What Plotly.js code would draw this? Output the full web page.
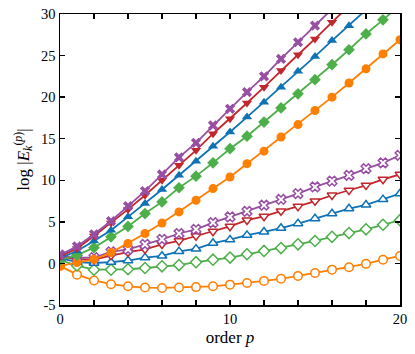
<!DOCTYPE html>
<html>
<head>
<meta charset="utf-8">
<script src="https://cdn.plot.ly/plotly-3.0.1.min.js"></script>
<style>
  html, body { margin: 0; padding: 0; background: white; }
  #plot { width: 415px; height: 354px; }
</style>
</head>
<body>
<div id="plot"></div>
<script>
// order p on the x axis
let orders = [0, 1, 2, 3, 4, 5, 6, 7, 8, 9, 10, 11, 12, 13, 14, 15, 16, 17, 18, 19, 20];

// filled markers (upper bundle)
let filledPurple = [1.0, 2.05, 3.5, 5.1, 6.9, 8.7, 10.7, 12.75, 14.5, 16.6, 18.6, 20.6, 22.5, 24.6, 26.6, 28.6, 30.6];
let filledRed = [0.85, 1.8, 3.3, 4.85, 6.5, 8.2, 10.0, 11.8, 13.6, 15.6, 17.4, 19.3, 21.2, 23.2, 25.1, 27.0, 29.0, 31.0];
let filledBlue = [0.65, 1.5, 2.7, 4.0, 5.6, 7.2, 8.9, 10.6, 12.3, 14.1, 15.8, 17.6, 19.4, 21.2, 23.1, 24.9, 26.8, 28.6, 30.5];
let filledGreen = [0.4, 1.0, 1.9, 3.2, 4.45, 6.0, 7.4, 9.1, 10.5, 12.1, 13.8, 15.3, 17.0, 18.7, 20.4, 22.1, 23.9, 25.7, 27.6, 29.3, 31.1];
let filledOrange = [-0.3, 0.1, 0.5, 1.3, 2.4, 3.6, 4.85, 6.2, 7.6, 9.0, 10.4, 12.0, 13.5, 15.2, 16.7, 18.4, 20.0, 21.7, 23.4, 25.2, 26.9];

// open markers (lower bundle)
let openPurple = [1.0, 0.7, 0.7, 1.4, 1.7, 2.3, 2.9, 3.6, 4.1, 4.9, 5.6, 6.25, 7.0, 7.7, 8.4, 9.2, 9.9, 10.6, 11.4, 12.1, 13.0];
let openRed = [0.85, 0.5, 0.45, 0.95, 1.35, 1.7, 2.3, 2.7, 3.3, 3.85, 4.45, 5.2, 5.65, 6.3, 6.85, 7.5, 8.2, 8.8, 9.4, 10.1, 10.7];
let openBlue = [0.65, 0.15, 0.05, 0.15, 0.35, 0.7, 0.9, 1.45, 1.75, 2.45, 2.85, 3.4, 3.8, 4.25, 4.8, 5.4, 6.0, 6.6, 7.05, 7.7, 8.4];
let openGreen = [0.4, -0.25, -0.75, -0.75, -0.7, -0.55, -0.35, -0.2, 0.15, 0.45, 0.7, 1.1, 1.5, 1.85, 2.3, 2.7, 3.2, 3.65, 4.1, 4.65, 5.2];
let openOrange = [-0.3, -1.35, -2.05, -2.5, -2.75, -2.9, -2.95, -2.9, -2.85, -2.75, -2.55, -2.35, -2.1, -1.85, -1.5, -1.15, -0.75, -0.45, -0.05, 0.45, 0.9];

// tick labels
let yTickVals = [-5, 0, 5, 10, 15, 20, 25, 30];
let yTickText = ['-5', '0', '5', '10', '15', '20', '25', '30'];

let colors = {
    purple: '#984ea3',
    red: '#c1272d',
    blue: '#0d72b6',
    green: '#4daf4a',
    orange: '#ff7f00'
};

function series(y, color, symbol, open) {
    let marker = { symbol: symbol, size: 9, color: color };
    if (open) {
        marker = { symbol: symbol, size: 8.5, color: 'white', line: { color: color, width: 1.5 } };
    }
    return {
        x: orders.slice(0, y.length),
        y: y,
        mode: 'lines+markers',
        type: 'scatter',
        line: { color: color, width: 1.8 },
        marker: marker,
        showlegend: false
    };
}

let traces = [
    series(openOrange, colors.orange, 'circle', true),
    series(openGreen, colors.green, 'diamond', true),
    series(openBlue, colors.blue, 'triangle-up', true),
    series(openRed, colors.red, 'triangle-down', true),
    series(openPurple, colors.purple, 'x', true),
    series(filledOrange, colors.orange, 'circle', false),
    series(filledGreen, colors.green, 'diamond', false),
    series(filledBlue, colors.blue, 'triangle-up', false),
    series(filledRed, colors.red, 'triangle-down', false),
    series(filledPurple, colors.purple, 'x', false)
];

let font = { family: 'Liberation Serif, DejaVu Serif, serif', size: 14.5, color: 'black' };

let layout = {
    width: 415,
    height: 354,
    margin: { l: 60, r: 15, t: 14, b: 49 },
    paper_bgcolor: 'white',
    plot_bgcolor: 'white',
    font: font,
    xaxis: {
        range: [0, 20],
        tick0: 0,
        dtick: 10,
        ticks: 'inside',
        ticklen: 5,
        tickwidth: 1.3,
        tickcolor: 'black',
        minor: { dtick: 2, ticks: 'inside', ticklen: 5, tickwidth: 1.3, tickcolor: 'black' },
        showline: true,
        linecolor: 'black',
        linewidth: 1.5,
        mirror: 'ticks',
        showgrid: false,
        zeroline: false,
        title: { text: 'order <i>p</i>', font: { size: 17 }, standoff: 5 }
    },
    yaxis: {
        range: [-5, 30],
        tickmode: 'array',
        tickvals: yTickVals,
        ticktext: yTickText,
        ticks: 'inside',
        ticklen: 5,
        tickwidth: 1.3,
        tickcolor: 'black',
        showline: true,
        linecolor: 'black',
        linewidth: 1.5,
        mirror: 'ticks',
        showgrid: false,
        zeroline: false,
        title: { text: 'log |<i>E</i><sub><i>k</i></sub><sup>(<i>p</i>)</sup>|', font: { size: 17 }, standoff: 7 }
    }
};

Plotly.newPlot('plot', traces, layout, { staticPlot: true });
</script>
</body>
</html>
